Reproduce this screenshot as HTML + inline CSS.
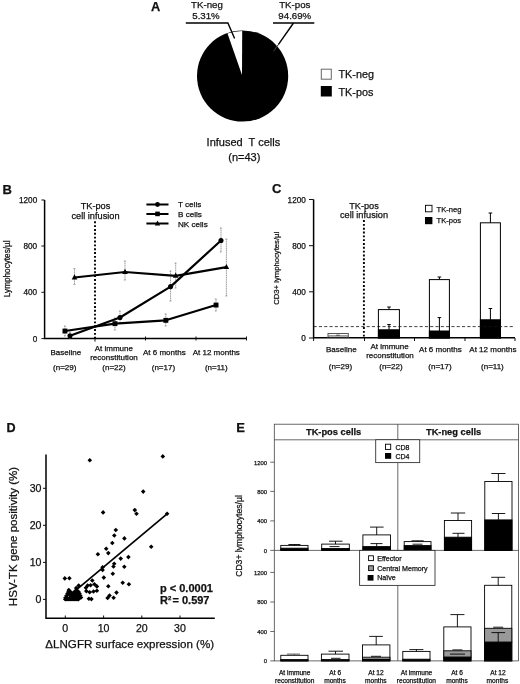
<!DOCTYPE html>
<html><head><meta charset="utf-8">
<style>
html,body{margin:0;padding:0;background:#fff;}
body{width:520px;height:684px;overflow:hidden;}
svg{display:block;filter:blur(.45px);}
text{font-family:"Liberation Sans",sans-serif;fill:#111;stroke:#111;stroke-width:.25px;}
.b{font-weight:bold;}
.m{text-anchor:middle;}
.e{text-anchor:end;}
</style></head><body>
<svg width="520" height="684" viewBox="0 0 520 684">
<rect width="520" height="684" fill="#fff"/>
<g id="A">
<text class="b" x="151" y="11" font-size="12.8">A</text>
<circle cx="242.6" cy="76.0" r="45.6" fill="#000"/>
<path d="M242.0 75.0 L242.2 31.0 A45.0 45.0 0 0 0 227.5 33.5 Z" fill="#fff"/>
<text class="m" x="207" y="8" font-size="9.7">TK-neg</text>
<text class="m" x="206" y="19.3" font-size="9.7">5.31%</text>
<text class="m" x="294.8" y="8" font-size="9.7">TK-pos</text>
<text class="m" x="294.8" y="19.3" font-size="9.7">94.69%</text>
<path d="M185.8 23 H227.9 L234.6 38.5" fill="none" stroke="#000" stroke-width="1.4"/>
<path d="M273 23 H314.3" fill="none" stroke="#000" stroke-width="1.5"/>
<path d="M293.5 23 L278.3 44.6" fill="none" stroke="#000" stroke-width="1.4"/>
<path d="M278.3 44.6 L273.6 51.3" fill="none" stroke="#444" stroke-width="1"/>
<rect x="321.3" y="69.2" width="10" height="10" fill="#fff" stroke="#666" stroke-width="1"/>
<rect x="320.8" y="86" width="11" height="10.5" fill="#000"/>
<text x="338.5" y="78.3" font-size="10.8">TK-neg</text>
<text x="338.5" y="95.6" font-size="10.8">TK-pos</text>
<text x="206.6" y="145.6" font-size="11" xml:space="preserve">Infused  T cells</text>
<text class="m" x="244.3" y="161.2" font-size="11">(n=43)</text>
</g>
<g id="B">
<text class="b" x="2.5" y="193.7" font-size="13">B</text>
<path d="M44.6 200 V338.5 H246.5" fill="none" stroke="#000" stroke-width="1.5"/>
<path d="M41.4 200H44.6 M41.4 246H44.6 M41.4 292.3H44.6 M41.4 338.6H44.6" stroke="#111" stroke-width="1"/>
<path d="M95 338.6v3 M145.5 336.5v4 M196 336.5v4 M246.5 336.5v4" stroke="#111" stroke-width="1"/>
<g font-size="8.2" class="e">
<text x="37.2" y="203">1200</text><text x="37.2" y="249">800</text><text x="37.2" y="295.2">400</text><text x="37.2" y="341.5">0</text>
</g>
<text class="m" font-size="8.2" transform="translate(10.4 268.8) rotate(-90)">Lymphocytes/µl</text>
<text class="m" x="95.5" y="209.3" font-size="9.2">TK-pos</text>
<text class="m" x="95.5" y="218.5" font-size="9.2">cell infusion</text>
<path d="M95 221.3 V338" stroke="#000" stroke-width="1.9" stroke-dasharray="1.9 1.95"/>
<path d="M65.0 326.0V336.0 M63.9 326.0h2.2 M63.9 336.0h2.2 M70.0 332.0V338.0 M68.9 332.0h2.2 M68.9 338.0h2.2 M74.5 268.5V284.5 M73.4 268.5h2.2 M73.4 284.5h2.2 M115.0 318.0V330.0 M113.9 318.0h2.2 M113.9 330.0h2.2 M120.0 311.0V323.0 M118.9 311.0h2.2 M118.9 323.0h2.2 M125.0 261.0V280.0 M123.9 261.0h2.2 M123.9 280.0h2.2 M165.8 314.0V326.0 M164.7 314.0h2.2 M164.7 326.0h2.2 M170.6 271.0V301.0 M169.5 271.0h2.2 M169.5 301.0h2.2 M175.7 263.0V288.0 M174.6 263.0h2.2 M174.6 288.0h2.2 M216.0 299.0V311.0 M214.9 299.0h2.2 M214.9 311.0h2.2 M221.0 228.0V252.0 M219.9 228.0h2.2 M219.9 252.0h2.2 M226.4 239.0V296.0 M225.3 239.0h2.2 M225.3 296.0h2.2" fill="none" stroke="#8a8a8a" stroke-width="0.85" stroke-dasharray="1.3 0.5"/>
<g fill="none" stroke="#000" stroke-width="2.2" stroke-linejoin="round"><polyline points="70.0,335.7 120.0,317.5 170.6,286.6 221.0,240.5"/><polyline points="65.0,331.0 115.0,323.7 165.8,320.3 216.0,305.0"/><polyline points="74.5,277.5 125.0,272.0 175.7,275.8 226.4,267.2"/></g>
<g fill="#000"><circle cx="70.0" cy="335.7" r="2.55"/><circle cx="120.0" cy="317.5" r="2.55"/><circle cx="170.6" cy="286.6" r="2.55"/><circle cx="221.0" cy="240.5" r="2.55"/><rect x="62.5" y="328.6" width="4.9" height="4.9"/><rect x="112.5" y="321.2" width="4.9" height="4.9"/><rect x="163.4" y="317.9" width="4.9" height="4.9"/><rect x="213.6" y="302.6" width="4.9" height="4.9"/><path d="M74.5 274.3l2.8 5.1h-5.6z"/><path d="M125.0 268.8l2.8 5.1h-5.6z"/><path d="M175.7 272.6l2.8 5.1h-5.6z"/><path d="M226.4 264.0l2.8 5.1h-5.6z"/></g>
<g stroke="#000" stroke-width="2"><path d="M146.4 204.5H168.5 M146.4 213.9H168.5 M146.4 223.6H168.5"/></g>
<circle cx="157.5" cy="204.5" r="2.4"/><rect x="155.2" y="211.6" width="4.6" height="4.6"/><path d="M157.5 220.6l2.7 4.8h-5.4z"/>
<g font-size="8.1"><text x="178" y="207.3">T cells</text><text x="178" y="216.8">B cells</text><text x="178" y="226.5">NK cells</text></g>
<g font-size="8" class="m">
<text x="65.8" y="355.2">Baseline</text>
<text x="113.8" y="350.8">At immune</text><text x="114" y="359.6">reconstitution</text>
<text x="164.3" y="355.2">At 6 months</text><text x="216.3" y="355.2">At 12 months</text>
<text x="64.7" y="370">(n=29)</text><text x="114" y="370">(n=22)</text><text x="163.4" y="370">(n=17)</text><text x="216.3" y="370">(n=11)</text>
</g>
</g>
<g id="C">
<text class="b" x="272" y="192.7" font-size="13">C</text>
<path d="M313.6 199.5 V337.7 H515" fill="none" stroke="#000" stroke-width="1.5"/>
<path d="M309 199.5H313.6 M309 245.7H313.6 M309 291.8H313.6 M309 338H313.6" stroke="#111" stroke-width="1"/>
<path d="M313.6 338v3 M364.5 338v3 M414.5 338v3 M465 338v3 M515 338v3" stroke="#111" stroke-width="1"/>
<g font-size="8.2" class="e">
<text x="305.8" y="202.5">1200</text><text x="305.8" y="248.7">800</text><text x="305.8" y="294.8">400</text><text x="305.8" y="341">0</text>
</g>
<text class="m" font-size="7.7" transform="translate(278.6 268.3) rotate(-90)">CD3+ lymphocytes/µl</text>
<text class="m" x="364" y="209" font-size="9.2">TK-pos</text>
<text class="m" x="364" y="218.2" font-size="9.2">cell infusion</text>
<path d="M363.9 220.1 V337" stroke="#000" stroke-width="1.9" stroke-dasharray="1.9 1.92"/>
<g stroke="#000" stroke-width="1">
<rect x="328" y="333.5" width="20.3" height="4" fill="#fff" stroke="#555"/>
<path d="M328 335.6h20.3" stroke="#777" stroke-width="0.8"/><path d="M328 337.2h20.3" stroke="#000" stroke-width="0.9"/>
<path d="M336.2 335.2h3.6" stroke="#444" fill="none"/>
<rect x="378.4" y="309.6" width="21" height="28.4" fill="#fff"/>
<rect x="378.4" y="329.8" width="21" height="8.2" fill="#000"/>
<path d="M389 309.6v-2.6 M387.2 307h3.6 M389 329.8v-5.2 M387.2 324.6h3.6" fill="none"/>
<rect x="429.4" y="279.6" width="20" height="58.4" fill="#fff"/>
<rect x="429.4" y="331" width="20" height="7" fill="#000"/>
<path d="M439.4 279.6v-2.6 M437.6 277h3.6 M439.4 331v-13.4 M437.6 317.6h3.6" fill="none"/>
<rect x="480.4" y="222.8" width="20" height="115.2" fill="#fff"/>
<rect x="480.4" y="319.8" width="20" height="18.2" fill="#000"/>
<path d="M490.4 222.8v-9.8 M488.6 213h3.6 M490.4 319.8v-11.3 M488.6 308.5h3.6" fill="none"/>
</g>
<path d="M313.6 326.6H514" stroke="#111" stroke-width="0.8" stroke-dasharray="3.1 2.2"/>
<rect x="425.5" y="205.3" width="6.5" height="6.5" fill="#fff" stroke="#000" stroke-width="0.9"/>
<rect x="425" y="217" width="7.4" height="7.2" fill="#000"/>
<g font-size="7.6"><text x="436.5" y="211.6">TK-neg</text><text x="436.5" y="223.4">TK-pos</text></g>
<g font-size="8" class="m">
<text x="341.3" y="352.1">Baseline</text>
<text x="389.6" y="349">At immune</text><text x="390" y="357.6">reconstitution</text>
<text x="440.4" y="352.1">At 6 months</text><text x="492.9" y="352.1">At 12 months</text>
<text x="340.4" y="369">(n=29)</text><text x="390.9" y="369">(n=22)</text><text x="440" y="369">(n=17)</text><text x="492.4" y="369">(n=11)</text>
</g>
</g>
<g id="D">
<text class="b" x="6.5" y="432.3" font-size="12.6">D</text>
<path d="M46 454.6 V618.3 H214.8" fill="none" stroke="#000" stroke-width="1.5"/>
<path d="M43 488.3H46 M43 525.3H46 M43 562.4H46 M43 599.4H46" stroke="#111" stroke-width="1"/>
<path d="M65.3 615.5v2.8 M103.6 615.5v2.8 M141.8 615.5v2.8 M180 615.5v2.8" stroke="#111" stroke-width="1"/>
<g font-size="10.6" class="e">
<text x="41.5" y="492.1">30</text><text x="41.5" y="529.1">20</text><text x="41.5" y="566.2">10</text><text x="41.5" y="603.2">0</text>
</g>
<g font-size="10.6" class="m">
<text x="65.3" y="632.3">0</text><text x="103.6" y="632.3">10</text><text x="141.8" y="632.3">20</text><text x="180" y="632.3">30</text>
</g>
<text class="m" font-size="11.55" transform="translate(16.9 536.5) rotate(-90)">HSV-TK gene positivity (%)</text>
<text x="45.3" y="648.4" font-size="11.6">ΔLNGFR surface expression (%)</text>
<path d="M76 590.2 L167.1 513.9" stroke="#000" stroke-width="1.7"/>
<path d="M89.8 457.9l2.3 2.3l-2.3 2.3l-2.3 -2.3zM162.8 454.1l2.3 2.3l-2.3 2.3l-2.3 -2.3zM143.2 489.3l2.3 2.3l-2.3 2.3l-2.3 -2.3zM103.1 510.1l2.3 2.3l-2.3 2.3l-2.3 -2.3zM134.8 507.8l2.3 2.3l-2.3 2.3l-2.3 -2.3zM136.5 511.5l2.3 2.3l-2.3 2.3l-2.3 -2.3zM167.1 511.5l2.3 2.3l-2.3 2.3l-2.3 -2.3zM115.8 527.7l2.3 2.3l-2.3 2.3l-2.3 -2.3zM114.3 533.2l2.3 2.3l-2.3 2.3l-2.3 -2.3zM124.4 536.1l2.3 2.3l-2.3 2.3l-2.3 -2.3zM112.3 540.7l2.3 2.3l-2.3 2.3l-2.3 -2.3zM151.2 544.4l2.3 2.3l-2.3 2.3l-2.3 -2.3zM106.2 546.4l2.3 2.3l-2.3 2.3l-2.3 -2.3zM108.3 550.8l2.3 2.3l-2.3 2.3l-2.3 -2.3zM97.9 551.9l2.3 2.3l-2.3 2.3l-2.3 -2.3zM120.7 556.3l2.3 2.3l-2.3 2.3l-2.3 -2.3zM128.4 554.8l2.3 2.3l-2.3 2.3l-2.3 -2.3zM114.2 561.5l2.3 2.3l-2.3 2.3l-2.3 -2.3zM113.5 564.2l2.3 2.3l-2.3 2.3l-2.3 -2.3zM124.3 564.5l2.3 2.3l-2.3 2.3l-2.3 -2.3zM102.6 564.9l2.3 2.3l-2.3 2.3l-2.3 -2.3zM102.6 567.7l2.3 2.3l-2.3 2.3l-2.3 -2.3zM112.8 571.4l2.3 2.3l-2.3 2.3l-2.3 -2.3zM103.8 575.3l2.3 2.3l-2.3 2.3l-2.3 -2.3zM64.8 576.1l2.3 2.3l-2.3 2.3l-2.3 -2.3zM69.4 575.9l2.3 2.3l-2.3 2.3l-2.3 -2.3zM122.7 580.4l2.3 2.3l-2.3 2.3l-2.3 -2.3zM128.9 582.0l2.3 2.3l-2.3 2.3l-2.3 -2.3zM108.3 584.0l2.3 2.3l-2.3 2.3l-2.3 -2.3zM116.5 590.3l2.3 2.3l-2.3 2.3l-2.3 -2.3zM109.5 593.3l2.3 2.3l-2.3 2.3l-2.3 -2.3zM107.6 595.7l2.3 2.3l-2.3 2.3l-2.3 -2.3zM113.6 595.4l2.3 2.3l-2.3 2.3l-2.3 -2.3zM92.3 578.2l2.3 2.3l-2.3 2.3l-2.3 -2.3zM87.6 583.3l2.3 2.3l-2.3 2.3l-2.3 -2.3zM90.6 582.9l2.3 2.3l-2.3 2.3l-2.3 -2.3zM94.4 582.0l2.3 2.3l-2.3 2.3l-2.3 -2.3zM96.9 584.1l2.3 2.3l-2.3 2.3l-2.3 -2.3zM96.9 588.4l2.3 2.3l-2.3 2.3l-2.3 -2.3zM93.5 589.2l2.3 2.3l-2.3 2.3l-2.3 -2.3zM89.7 590.0l2.3 2.3l-2.3 2.3l-2.3 -2.3zM86.3 588.8l2.3 2.3l-2.3 2.3l-2.3 -2.3zM85.9 585.4l2.3 2.3l-2.3 2.3l-2.3 -2.3zM88.9 596.4l2.3 2.3l-2.3 2.3l-2.3 -2.3zM91.4 596.8l2.3 2.3l-2.3 2.3l-2.3 -2.3zM78.7 583.3l2.3 2.3l-2.3 2.3l-2.3 -2.3zM76.2 585.8l2.3 2.3l-2.3 2.3l-2.3 -2.3zM65.2 597.0l2.3 2.3l-2.3 2.3l-2.3 -2.3zM67.0 597.0l2.3 2.3l-2.3 2.3l-2.3 -2.3zM69.0 597.0l2.3 2.3l-2.3 2.3l-2.3 -2.3zM71.0 597.0l2.3 2.3l-2.3 2.3l-2.3 -2.3zM73.0 597.0l2.3 2.3l-2.3 2.3l-2.3 -2.3zM75.0 597.0l2.3 2.3l-2.3 2.3l-2.3 -2.3zM77.0 597.0l2.3 2.3l-2.3 2.3l-2.3 -2.3zM78.5 597.0l2.3 2.3l-2.3 2.3l-2.3 -2.3zM65.5 595.2l2.3 2.3l-2.3 2.3l-2.3 -2.3zM67.5 595.2l2.3 2.3l-2.3 2.3l-2.3 -2.3zM69.5 595.2l2.3 2.3l-2.3 2.3l-2.3 -2.3zM71.5 595.2l2.3 2.3l-2.3 2.3l-2.3 -2.3zM73.5 595.2l2.3 2.3l-2.3 2.3l-2.3 -2.3zM75.5 595.2l2.3 2.3l-2.3 2.3l-2.3 -2.3zM77.5 595.2l2.3 2.3l-2.3 2.3l-2.3 -2.3zM79.5 595.2l2.3 2.3l-2.3 2.3l-2.3 -2.3zM81.0 595.2l2.3 2.3l-2.3 2.3l-2.3 -2.3zM66.5 593.2l2.3 2.3l-2.3 2.3l-2.3 -2.3zM70.5 593.2l2.3 2.3l-2.3 2.3l-2.3 -2.3zM72.5 593.2l2.3 2.3l-2.3 2.3l-2.3 -2.3zM74.5 593.2l2.3 2.3l-2.3 2.3l-2.3 -2.3zM76.5 593.2l2.3 2.3l-2.3 2.3l-2.3 -2.3zM78.5 593.2l2.3 2.3l-2.3 2.3l-2.3 -2.3zM80.3 593.2l2.3 2.3l-2.3 2.3l-2.3 -2.3zM67.5 591.2l2.3 2.3l-2.3 2.3l-2.3 -2.3zM69.5 591.2l2.3 2.3l-2.3 2.3l-2.3 -2.3zM71.5 591.2l2.3 2.3l-2.3 2.3l-2.3 -2.3zM73.5 591.2l2.3 2.3l-2.3 2.3l-2.3 -2.3zM75.5 591.2l2.3 2.3l-2.3 2.3l-2.3 -2.3zM77.5 591.2l2.3 2.3l-2.3 2.3l-2.3 -2.3zM79.5 591.2l2.3 2.3l-2.3 2.3l-2.3 -2.3zM68.5 589.4l2.3 2.3l-2.3 2.3l-2.3 -2.3zM70.5 589.4l2.3 2.3l-2.3 2.3l-2.3 -2.3zM74.5 589.4l2.3 2.3l-2.3 2.3l-2.3 -2.3zM76.5 589.4l2.3 2.3l-2.3 2.3l-2.3 -2.3zM78.5 589.4l2.3 2.3l-2.3 2.3l-2.3 -2.3zM68.8 587.7l2.3 2.3l-2.3 2.3l-2.3 -2.3zM76.5 587.7l2.3 2.3l-2.3 2.3l-2.3 -2.3z" fill="#000"/>
<text class="b" x="160" y="592" font-size="11">p &lt; 0.0001</text>
<text class="b" x="160" y="604.4" font-size="11">R<tspan font-size="6" dy="-4.3">2</tspan><tspan dy="4.3" dx="1.2">= 0.597</tspan></text>
</g>
<g id="E">
<text class="b" x="236.2" y="432.2" font-size="13">E</text>
<g fill="none" stroke="#444" stroke-width="0.8">
<rect x="274.3" y="424.2" width="244.1" height="236.7"/>
<path d="M274.3 439.8H518.4 M397.8 424.2V660.9 M274.3 550.4H518.4"/>
<path d="M270.3 462.2h4 M270.3 491.4h4 M270.3 520.9h4 M270.3 550.4h4 M270.3 572.4h4 M270.3 602h4 M270.3 631.5h4 M270.3 660.9h4"/>
</g>
<text class="b m" x="333.6" y="435.4" font-size="9.3">TK-pos cells</text>
<text class="b m" x="453.6" y="435.4" font-size="9.3">TK-neg cells</text>
<g font-size="5.9" class="e">
<text x="267.1" y="464.5">1200</text><text x="267.1" y="493.7">800</text><text x="267.1" y="523.2">400</text><text x="267.1" y="552.7">0</text>
<text x="267.1" y="574.7">1200</text><text x="267.1" y="604.3">800</text><text x="267.1" y="633.8">400</text><text x="267.1" y="663.2">0</text>
</g>
<text class="m" font-size="8.6" transform="translate(241.6 536) rotate(-90)">CD3+ lymphocytes/µl</text>
<g stroke="#000" stroke-width="0.9">
<rect x="280.8" y="545.4" width="27.2" height="5" fill="#fff"/><rect x="280.8" y="548.2" width="27.2" height="2.2" fill="#000"/>
<path d="M294.4 545.4v-0.9 M288.4 544.5h12"/>
<rect x="321.7" y="544.1" width="27.6" height="6.3" fill="#fff"/><rect x="321.7" y="548.5" width="27.6" height="1.9" fill="#000"/>
<path d="M335.5 544.1v-2.9 M329 541.2h13.5 M329.5 546.6h10"/>
<rect x="362.9" y="534.9" width="27.6" height="15.5" fill="#fff"/><rect x="362.9" y="546.6" width="27.6" height="3.8" fill="#000"/>
<path d="M376.7 534.9v-7.8 M370 527.1h13.6 M376.7 546.6v-3 M370.5 543.6h12"/>
<rect x="404.2" y="541.6" width="26.8" height="8.8" fill="#fff"/><rect x="404.2" y="545.6" width="26.8" height="4.8" fill="#000"/>
<path d="M417.6 541.6v-0.8 M411.5 540.8h12.2 M412.5 544.2h10"/>
<rect x="444.4" y="520.5" width="27.2" height="29.9" fill="#fff"/><rect x="444.4" y="537.2" width="27.2" height="13.2" fill="#000"/>
<path d="M458 520.5v-7.5 M450.8 513h14.4 M458 537.2v-3.9 M452.5 533.3h12"/>
<rect x="484.8" y="481.5" width="27.2" height="68.9" fill="#fff"/><rect x="484.8" y="519.9" width="27.2" height="30.5" fill="#000"/>
<path d="M498.4 481.5v-8 M491.3 473.5h14.2 M498.4 519.9v-6.4 M491.8 513.5h13.4"/>
<rect x="280.8" y="655.3" width="27.2" height="5.6" fill="#fff"/><rect x="280.8" y="659.6" width="27.2" height="1.3" fill="#000"/>
<path d="M294.4 655.3v-1.2 M287 654.1h13" stroke="#444"/>
<rect x="321.4" y="654.1" width="27.6" height="6.8" fill="#fff"/><rect x="321.4" y="659.6" width="27.6" height="1.3" fill="#000"/>
<path d="M335.5 654.1v-2.9 M328.5 651.2h14.5 M331 658.3h9.5"/>
<rect x="362.5" y="644.9" width="27.4" height="16" fill="#fff"/><rect x="362.5" y="657.2" width="27.4" height="2" fill="#bbb"/><rect x="362.5" y="659.4" width="27.4" height="1.5" fill="#000"/>
<path d="M376.2 644.9v-8.5 M369.2 636.4h13.6 M371 656.3h10"/>
<rect x="402.8" y="651.4" width="27.2" height="9.5" fill="#fff"/><rect x="402.8" y="659.2" width="27.2" height="1.7" fill="#000"/>
<path d="M416.4 651.4v-1.8 M409.4 649.6h14"/>
<rect x="443.8" y="626.9" width="27.2" height="34" fill="#fff"/><rect x="443.8" y="650.8" width="27.2" height="6.4" fill="#999"/><rect x="443.8" y="657.2" width="27.2" height="3.7" fill="#000"/>
<path d="M457.4 626.9v-12.3 M450.4 614.6h14 M452.4 649.9h10 M450 654.1h15"/>
<rect x="484.6" y="585.3" width="27.2" height="75.6" fill="#fff"/><rect x="484.6" y="628.3" width="27.2" height="13.9" fill="#999"/><rect x="484.6" y="642.2" width="27.2" height="18.7" fill="#000"/>
<path d="M498.2 585.3v-8 M491.2 577.3h14 M493.2 627.2h10 M498.2 642.2v-9.6 M491.5 632.6h13.6"/>
</g>
<rect x="375.7" y="439.7" width="44" height="22.9" fill="#fff" stroke="#333" stroke-width="0.9"/>
<rect x="385.5" y="444.2" width="5.2" height="5.2" fill="#fff" stroke="#000" stroke-width="0.9"/>
<rect x="385" y="453" width="6.2" height="5.8" fill="#000"/>
<g font-size="7"><text x="395.4" y="449.6">CD8</text><text x="395.4" y="458.7">CD4</text></g>
<rect x="359.6" y="550.4" width="75.4" height="35" fill="#fff" stroke="#333" stroke-width="0.9"/>
<rect x="368.6" y="555.8" width="4.8" height="4.8" fill="#fff" stroke="#000" stroke-width="0.9"/>
<rect x="368.6" y="565.8" width="4.8" height="4.8" fill="#999" stroke="#000" stroke-width="0.9"/>
<rect x="367.6" y="575" width="5.9" height="5.6" fill="#000"/>
<g font-size="7.1"><text x="377.2" y="560.6">Effector</text><text x="377.2" y="570.5">Central Memory</text><text x="377.2" y="580.4">Naïve</text></g>
<g font-size="6.6" class="m">
<text x="294.7" y="674.8">At immune</text><text x="294.7" y="682.6">reconstitution</text>
<text x="335.2" y="674.8">At 6</text><text x="335" y="682.6">months</text>
<text x="376" y="674.8">At 12</text><text x="375.8" y="682.6">months</text>
<text x="416.5" y="674.8">At immune</text><text x="416.4" y="682.6">reconstitution</text>
<text x="457" y="674.8">At 6</text><text x="457" y="682.6">months</text>
<text x="498" y="674.8">At 12</text><text x="497.4" y="682.6">months</text>
</g>
</g>
</svg>
</body></html>
